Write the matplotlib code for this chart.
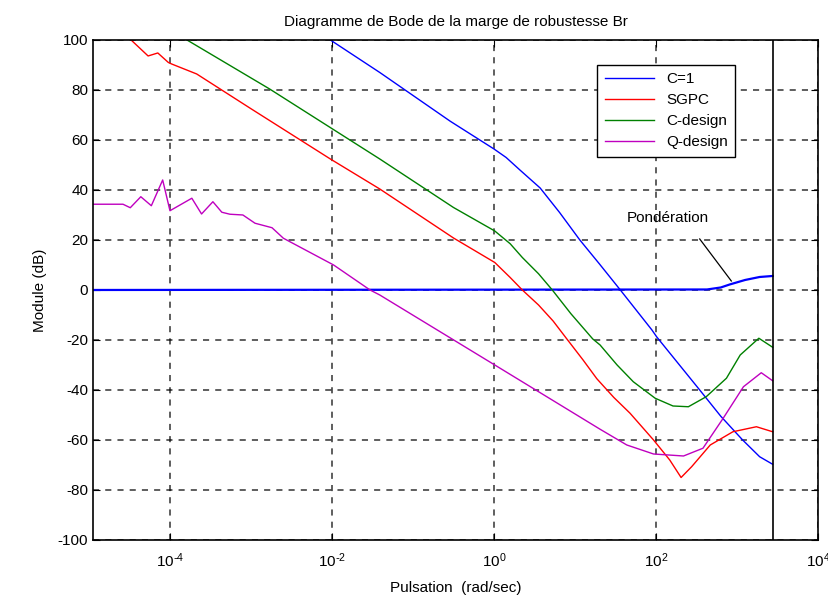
import numpy as np
import matplotlib
matplotlib.use("Agg")
import matplotlib.pyplot as plt
from matplotlib.ticker import NullLocator, FuncFormatter

plt.rcParams['font.family'] = ['Liberation Sans', 'DejaVu Sans']
plt.rcParams['mathtext.default'] = 'regular'
plt.rcParams['axes.unicode_minus'] = False

# Courbes de module (exposants log10 de la pulsation, module en dB)
c1_exp = [-2.02, -1.41, -0.54, 0.0, 0.15, 0.32, 0.57, 0.81, 1.06, 1.3, 1.56, 1.95, 2.01, 2.54,
          2.8, 3.07, 3.28, 3.44]
c1_db = [100, 87, 67.5, 56.4, 53, 48, 40.8, 31, 20, 10.5, 0, -16, -18.8, -40,
         -50.5, -60, -66.7, -69.7]

sgpc_exp = [-4.48, -4.27, -4.15, -4.02, -3.98, -3.67, -3.0, -2.02, -1.41, -0.5, 0.01, 0.2, 0.35,
            0.55, 0.73, 0.9, 1.1, 1.27, 1.48, 1.68, 1.97, 2.17, 2.31, 2.44, 2.67, 2.95, 3.24, 3.44]
sgpc_db = [100, 93.6, 94.8, 91, 90.4, 86.4, 72.5, 52.4, 40.4, 20.8, 11, 5, 0,
           -6, -12.4, -19.6, -28, -35.5, -43, -49.3, -60, -68, -75, -70.7, -62, -56.7, -54.7, -56.7]

cdes_exp = [-3.79, -2.77, -1.41, -0.5, 0.01, 0.2, 0.35, 0.55, 0.72, 0.95, 1.22, 1.31, 1.52, 1.72,
            1.99, 2.21, 2.40, 2.62, 2.87, 3.04, 3.27, 3.44]
cdes_db = [100, 80.4, 52.4, 33, 23.6, 18.5, 13, 6.5, 0, -9.5, -19.6, -22, -30, -36.7,
           -43.3, -46.4, -46.7, -42.7, -35.3, -26, -19.3, -22.9]

qdes_exp = [-4.95, -4.58, -4.49, -4.36, -4.23, -4.09, -4.0, -3.73, -3.61, -3.47, -3.36, -3.26,
            -3.1, -2.95, -2.74, -2.6, -1.98, -1.53, -1.41, 0.01, 1.31, 1.64, 1.97, 2.34,
            2.58, 2.83, 3.08, 3.30, 3.44]
qdes_db = [34.3, 34.3, 32.9, 37.3, 33.7, 44, 31.7, 36.7, 30.4, 35.3, 31.1, 30.3,
           30, 26.7, 24.9, 20.7, 10, 0, -2, -30, -55.7, -62, -65.6, -66.4,
           -63.3, -51.3, -38.7, -33.1, -36.3]

# Pondération
pond_exp = [-4.95, 2.63, 2.8, 2.91, 3.1, 3.28, 3.44]
pond_db = [0, 0.2, 1.0, 2.2, 4.0, 5.2, 5.6]

fig = plt.figure(figsize=(8.29, 6.01), dpi=100)
ax = fig.add_axes([0.1122, 0.1015, 0.8745, 0.832])

ax.plot(10 ** np.array(pond_exp), pond_db, color=(0, 0, 1), lw=1.6)
ax.plot(10 ** np.array(c1_exp), c1_db, color=(0, 0, 1), lw=1.0, label='C=1')
ax.plot(10 ** np.array(sgpc_exp), sgpc_db, color=(1, 0, 0), lw=1.0, label='SGPC')
ax.plot(10 ** np.array(cdes_exp), cdes_db, color=(0, 0.5, 0), lw=1.0, label='C-design')
ax.plot(10 ** np.array(qdes_exp), qdes_db, color=(0.75, 0, 0.75), lw=1.0, label='Q-design')

# trait vertical en fin de tracé
ax.axvline(10 ** 3.44, color='black', lw=1.2)


def puissance_dix(x, pos):
    # exposant écrit avec un trait d'union, comme sous MATLAB
    e = int(round(np.log10(x)))
    if e < 0:
        return r'$10^{\text{-}%d}$' % (-e)
    return r'$10^{%d}$' % e


ax.set_xscale('log')
ax.set_xlim(10 ** -4.95, 1e4)
ax.set_ylim(-100, 100)
ax.set_xticks([1e-4, 1e-2, 1e0, 1e2, 1e4])
ax.xaxis.set_major_formatter(FuncFormatter(puissance_dix))
ax.set_yticks(np.arange(-100, 101, 20))
ax.xaxis.set_minor_locator(NullLocator())
ax.tick_params(direction='in', top=True, right=True, length=5, labelsize=11, colors='black')
ax.tick_params(axis='x', pad=8)

ax.grid(True, color='black', linestyle=(0, (4, 4)), lw=1.1, alpha=0.8)
for s in ax.spines.values():
    s.set_linewidth(1.2)

# annotation de la pondération
ax.plot([10 ** 2.54, 10 ** 2.93], [20.4, 3.6], color='black', lw=0.9)
ax.text(10 ** 2.15, 28.8, 'Pondération', ha='center', va='center', fontsize=11)

ax.set_title('Diagramme de Bode de la marge de robustesse Br', fontsize=11, pad=10)
ax.set_xlabel('Pulsation  (rad/sec)', fontsize=11, labelpad=8)
ax.set_ylabel('Module (dB)', fontsize=11, labelpad=8)

leg = ax.legend(loc='upper left', bbox_to_anchor=(0.685, 0.966), fontsize=11, fancybox=False,
                edgecolor='black', framealpha=1, handlelength=3.2, borderpad=0.5, labelspacing=0.45)
leg.get_frame().set_linewidth(1.0)

fig.savefig('out.png', dpi=100)
